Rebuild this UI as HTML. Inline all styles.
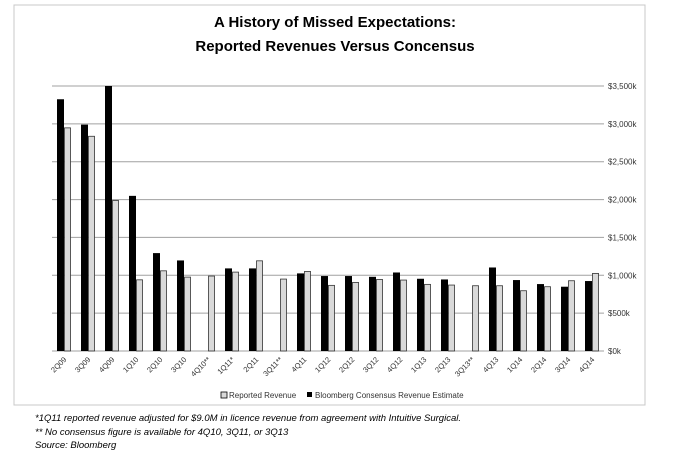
<!DOCTYPE html>
<html><head><meta charset="utf-8"><style>
body{margin:0;background:#fff;font-family:"Liberation Sans",sans-serif;}
#wrap{position:relative;width:682px;height:461px;overflow:hidden;}
.fn{position:absolute;left:35px;font-size:9.5px;font-style:italic;color:#000;}
</style></head><body>
<div id="wrap">
<svg id="chart" width="682" height="461">
  <rect x="14" y="5" width="631" height="400" fill="#fff" stroke="#c8c8c8"/>
  <text x="335" y="27" text-anchor="middle" font-size="15" font-weight="bold" font-family="Liberation Sans, sans-serif">A History of Missed Expectations:</text>
  <text x="335" y="51" text-anchor="middle" font-size="15" font-weight="bold" font-family="Liberation Sans, sans-serif">Reported Revenues Versus Concensus</text>
  <g id="grid"></g><g id="bars"></g><g id="labels"></g>
  <g>
    <rect x="221" y="392" width="6" height="6" fill="#d9d9d9" stroke="#000" stroke-width="0.8"/>
    <text x="229" y="398" font-size="8" fill="#333">Reported Revenue</text>
    <rect x="307" y="392" width="5" height="5" fill="#000"/>
    <text x="315" y="398" font-size="8" fill="#333">Bloomberg Consensus Revenue Estimate</text>
  </g>
</svg>
<div class="fn" style="top:413px">*1Q11 reported revenue adjusted for $9.0M in licence revenue from agreement with Intuitive Surgical.</div>
<div class="fn" style="top:427px">** No consensus figure is available for 4Q10, 3Q11, or 3Q13</div>
<div class="fn" style="top:440px">Source: Bloomberg</div>
</div>
<script>
const categories=["2Q09","3Q09","4Q09","1Q10","2Q10","3Q10","4Q10**","1Q11*","2Q11","3Q11**","4Q11","1Q12","2Q12","3Q12","4Q12","1Q13","2Q13","3Q13**","4Q13","1Q14","2Q14","3Q14","4Q14"];
const consensus=[3325,2990,3500,2049,1293,1196,null,1091,1091,null,1025,990,990,980,1037,954,945,null,1103,937,884,849,924];
const reported=[2947,2836,1988,940,1059,976,990,1042,1191,950,1051,867,906,945,937,880,871,862,862,796,849,928,1025];
const yTicks=[0,500,1000,1500,2000,2500,3000,3500];
const yTickLabels=["$0k","$500k","$1,000k","$1,500k","$2,000k","$2,500k","$3,000k","$3,500k"];
const NS="http://www.w3.org/2000/svg";
const x0=52,x1=604,y0=351,yTop=86,yMax=3500;
const step=(x1-x0)/categories.length;
function y(v){return y0-(v/yMax)*(y0-yTop);}
function xc(i){return x0+step*(i+0.5);}
function mk(tag,attrs,parent){const e=document.createElementNS(NS,tag);for(const k in attrs)e.setAttribute(k,attrs[k]);document.getElementById(parent).appendChild(e);return e;}
yTicks.forEach((t,i)=>{
  const l=mk("line",{x1:x0,x2:x1,y1:y(t),y2:y(t),stroke:"#a0a0a0","stroke-width":1},"grid");
  
  
  const tx=mk("text",{x:608,y:y(t)+3,"font-size":8,fill:"#333"},"labels");
  tx.textContent=yTickLabels[i];
  
  
});
const bw=7;
categories.forEach((c,i)=>{
  const cx=xc(i);
  if(consensus[i]!=null){
    const b=mk("rect",{x:cx-bw,y:y(consensus[i]),width:bw,height:y0-y(consensus[i]),fill:"#000"},"bars");
    
    
  }
  const g=mk("rect",{x:cx+0.5,y:y(reported[i]),width:bw-1,height:y0-y(reported[i]),fill:"#d9d9d9",stroke:"#333","stroke-width":0.8},"bars");
  
  
  const t=mk("text",{x:cx+3,y:360,"font-size":7.5,fill:"#333","text-anchor":"end",transform:`rotate(-45 ${cx+3} 360)`},"labels");
  t.textContent=c;
  
  
});
</script>
</body></html>
